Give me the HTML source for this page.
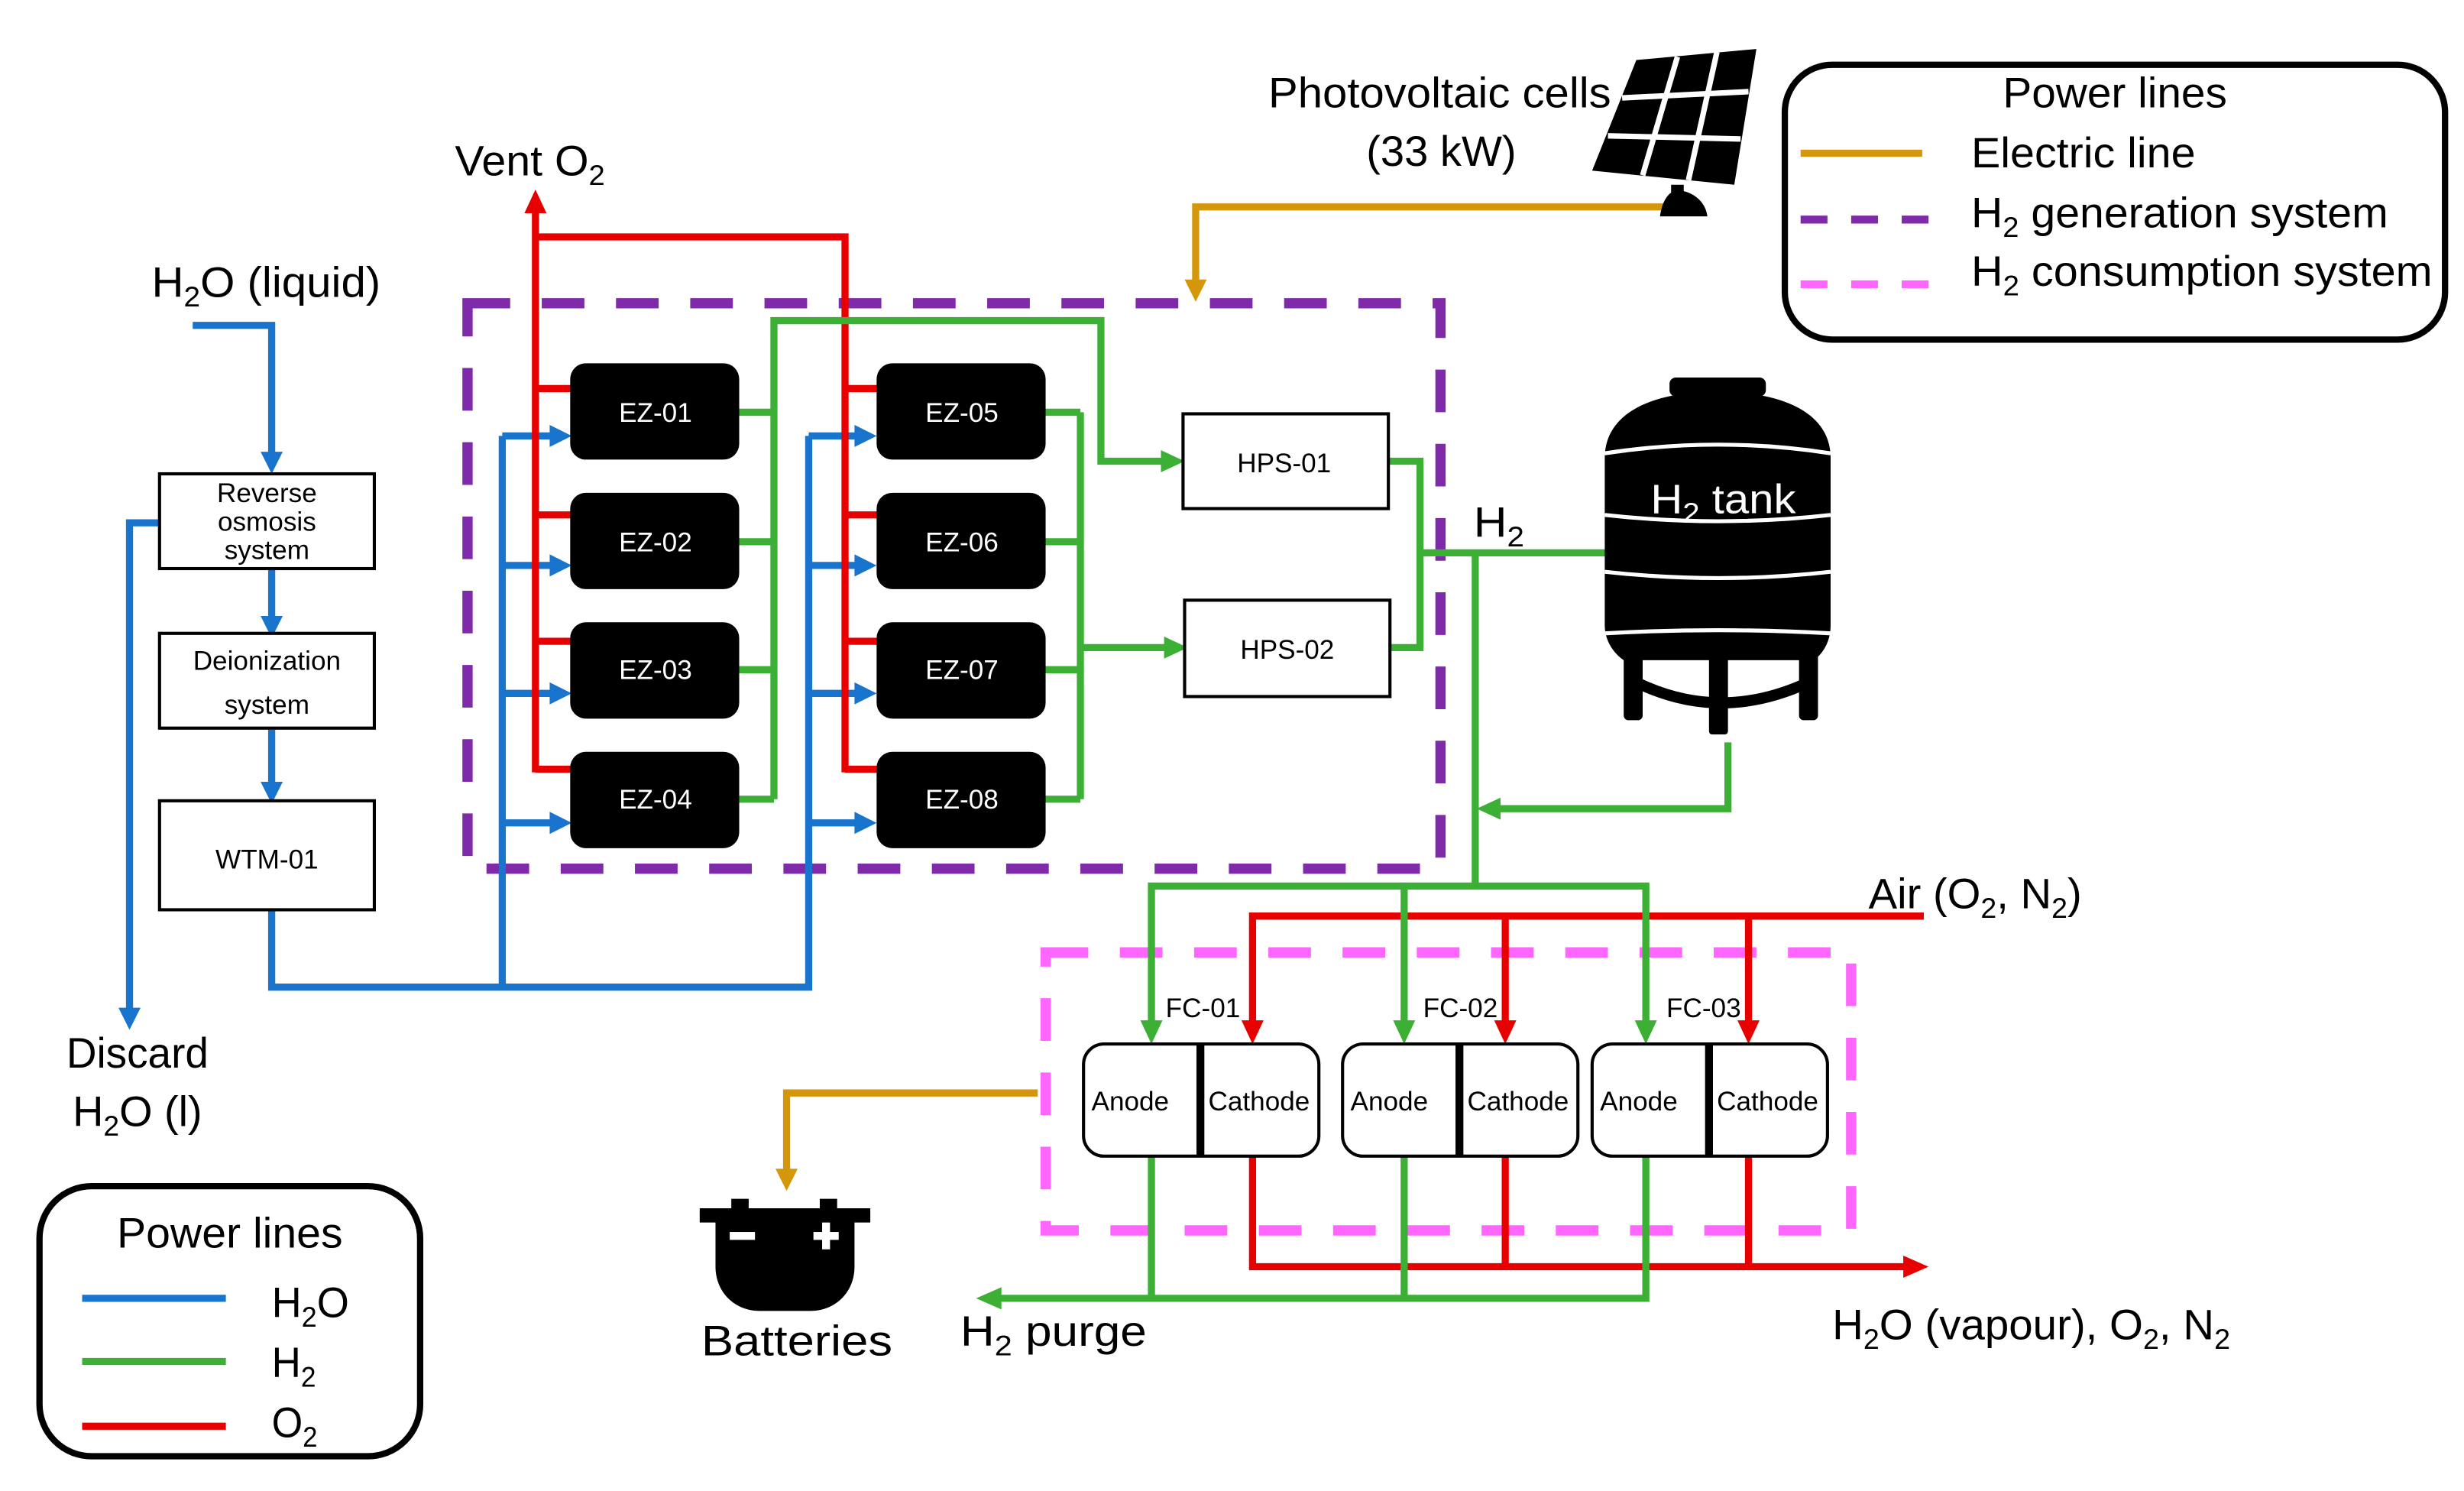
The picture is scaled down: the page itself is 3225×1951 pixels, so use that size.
<!DOCTYPE html>
<html><head><meta charset="utf-8"><style>
html,body{margin:0;padding:0;background:#fff}
svg{display:block}
text{font-family:"Liberation Sans Narrow","Liberation Sans",sans-serif;fill:#000}
text.w{fill:#fff}
</style></head><body>
<svg width="3225" height="1951" viewBox="0 0 1560 944" preserveAspectRatio="none" xmlns="http://www.w3.org/2000/svg">
<rect width="1560" height="944" fill="#fff"/>
<g fill="none" stroke-linejoin="miter" stroke-linecap="butt">
<rect x="296" y="192" width="616" height="358" stroke="#7f2aa8" stroke-width="6.5" stroke-dasharray="27,20"/>
<rect x="662" y="603" width="510" height="176" stroke="#ff66ff" stroke-width="6.5" stroke-dasharray="27,20"/>
<polyline points="1062,131 757,131 757,180" stroke="#d4960a" stroke-width="4.5"/>
<polyline points="657,692 498,692 498,742" stroke="#d4960a" stroke-width="4.5"/>
<g stroke="#1874cd" stroke-width="4.5">
<polyline points="122,206 172,206 172,288"/>
<line x1="172" y1="360" x2="172" y2="392"/>
<line x1="172" y1="462" x2="172" y2="497"/>
<polyline points="101,331 82,331 82,640"/>
<polyline points="172,577 172,625 512,625 512,276"/>
<line x1="318" y1="625" x2="318" y2="276"/>
<line x1="318" y1="276" x2="350" y2="276"/><line x1="318" y1="358" x2="350" y2="358"/>
<line x1="318" y1="439" x2="350" y2="439"/><line x1="318" y1="521" x2="350" y2="521"/>
<line x1="512" y1="276" x2="543" y2="276"/><line x1="512" y1="358" x2="543" y2="358"/>
<line x1="512" y1="439" x2="543" y2="439"/><line x1="512" y1="521" x2="543" y2="521"/>
</g>
<g stroke="#e60000" stroke-width="4.5">
<line x1="339" y1="132" x2="339" y2="489"/>
<polyline points="339,150 535,150 535,489"/>
<line x1="339" y1="246" x2="362" y2="246"/><line x1="339" y1="326" x2="362" y2="326"/>
<line x1="339" y1="406" x2="362" y2="406"/><line x1="339" y1="487" x2="362" y2="487"/>
<line x1="535" y1="246" x2="556" y2="246"/><line x1="535" y1="326" x2="556" y2="326"/>
<line x1="535" y1="406" x2="556" y2="406"/><line x1="535" y1="487" x2="556" y2="487"/>
<polyline points="793,648 793,580 1218,580"/>
<line x1="953" y1="580" x2="953" y2="648"/>
<line x1="1107" y1="580" x2="1107" y2="648"/>
<polyline points="793,732 793,802 1208,802"/>
<line x1="953" y1="732" x2="953" y2="802"/>
<line x1="1107" y1="732" x2="1107" y2="802"/>
</g>
<g stroke="#3cb034" stroke-width="4.5">
<line x1="468" y1="261" x2="490" y2="261"/><line x1="468" y1="343" x2="490" y2="343"/>
<line x1="468" y1="424" x2="490" y2="424"/><line x1="468" y1="506" x2="490" y2="506"/>
<polyline points="490,506 490,203 697,203 697,292 738,292"/>
<line x1="660" y1="261" x2="684" y2="261"/><line x1="660" y1="343" x2="684" y2="343"/>
<line x1="660" y1="424" x2="684" y2="424"/><line x1="660" y1="506" x2="684" y2="506"/>
<polyline points="684,261 684,506"/>
<line x1="684" y1="410" x2="740" y2="410"/>
<polyline points="879,292 899,292 899,410 880,410"/>
<line x1="899" y1="350" x2="1020" y2="350"/>
<line x1="934" y1="350" x2="934" y2="561"/>
<polyline points="1094,470 1094,512 948,512"/>
<polyline points="729,648 729,561 1042,561 1042,648"/>
<line x1="889" y1="561" x2="889" y2="648"/>
<polyline points="729,732 729,822 632,822"/>
<polyline points="889,732 889,822 1042,822 1042,732"/>
<line x1="729" y1="822" x2="889" y2="822"/>
</g>
</g>
<g fill="#1874cd">
<polygon points="165,286 179,286 172,300"/>
<polygon points="165,390 179,390 172,404"/>
<polygon points="165,495 179,495 172,509"/>
<polygon points="75,638 89,638 82,652"/>
<polygon points="348,269 348,283 362,276"/><polygon points="348,351 348,365 362,358"/>
<polygon points="348,432 348,446 362,439"/><polygon points="348,514 348,528 362,521"/>
<polygon points="541,269 541,283 555,276"/><polygon points="541,351 541,365 555,358"/>
<polygon points="541,432 541,446 555,439"/><polygon points="541,514 541,528 555,521"/>
</g>
<g fill="#e60000">
<polygon points="332,135 346,135 339,120"/>
<polygon points="786,646 800,646 793,661"/>
<polygon points="946,646 960,646 953,661"/>
<polygon points="1100,646 1114,646 1107,661"/>
<polygon points="1205,795 1205,809 1221,802"/>
</g>
<g fill="#3cb034">
<polygon points="735,285 735,299 750,292"/>
<polygon points="737,403 737,417 752,410"/>
<polygon points="950,505 950,519 935,512"/>
<polygon points="722,646 736,646 729,661"/>
<polygon points="882,646 896,646 889,661"/>
<polygon points="1035,646 1049,646 1042,661"/>
<polygon points="634,815 634,829 618,822"/>
</g>
<g fill="#d4960a">
<polygon points="750,177 764,177 757,191"/>
<polygon points="491,740 505,740 498,754"/>
</g>
<g fill="#fff" stroke="#000" stroke-width="2">
<rect x="101" y="300" width="136" height="60"/>
<rect x="101" y="401" width="136" height="60"/>
<rect x="101" y="507" width="136" height="69"/>
<rect x="749" y="262" width="130" height="60"/>
<rect x="750" y="380" width="130" height="61"/>
</g>
<g fill="#000">
<rect x="361" y="230" width="107" height="61" rx="10"/>
<rect x="361" y="312" width="107" height="61" rx="10"/>
<rect x="361" y="394" width="107" height="61" rx="10"/>
<rect x="361" y="476" width="107" height="61" rx="10"/>
<rect x="555" y="230" width="107" height="61" rx="10"/>
<rect x="555" y="312" width="107" height="61" rx="10"/>
<rect x="555" y="394" width="107" height="61" rx="10"/>
<rect x="555" y="476" width="107" height="61" rx="10"/>
</g>
<g font-size="17" text-anchor="middle">
<text class="w" style="fill:#fff" x="415" y="267">EZ-01</text><text class="w" style="fill:#fff" x="415" y="349">EZ-02</text>
<text class="w" style="fill:#fff" x="415" y="430">EZ-03</text><text class="w" style="fill:#fff" x="415" y="512">EZ-04</text>
<text class="w" style="fill:#fff" x="609" y="267">EZ-05</text><text class="w" style="fill:#fff" x="609" y="349">EZ-06</text>
<text class="w" style="fill:#fff" x="609" y="430">EZ-07</text><text class="w" style="fill:#fff" x="609" y="512">EZ-08</text>
</g>
<g font-size="17" text-anchor="middle">
<text x="813" y="299">HPS-01</text><text x="815" y="417">HPS-02</text>
<text x="169" y="318">Reverse</text><text x="169" y="336">osmosis</text><text x="169" y="354">system</text>
<text x="169" y="424">Deionization</text><text x="169" y="452">system</text>
<text x="169" y="550">WTM-01</text>
</g>
<g fill="#fff" stroke="#000" stroke-width="2">
<rect x="686" y="661" width="149" height="71" rx="13"/>
<rect x="850" y="661" width="149" height="71" rx="13"/>
<rect x="1008" y="661" width="149" height="71" rx="13"/>
</g>
<g stroke="#000" stroke-width="5">
<line x1="760" y1="661" x2="760" y2="732"/>
<line x1="924" y1="661" x2="924" y2="732"/>
<line x1="1082" y1="661" x2="1082" y2="732"/>
</g>
<g font-size="17">
<text x="738" y="644">FC-01</text><text x="901" y="644">FC-02</text><text x="1055" y="644">FC-03</text>
<text x="691" y="703">Anode</text><text x="765" y="703">Cathode</text>
<text x="855" y="703">Anode</text><text x="929" y="703">Cathode</text>
<text x="1013" y="703">Anode</text><text x="1087" y="703">Cathode</text>
</g>
<g fill="#000">
<polygon points="1036,38 1112,31 1098,117 1008,108"/>
</g>
<g stroke="#fff" stroke-width="3.5">
<line x1="1062" y1="36" x2="1040" y2="111"/>
<line x1="1087" y1="33" x2="1069" y2="114"/>
<line x1="1027" y1="62" x2="1107" y2="58"/>
<line x1="1018" y1="86" x2="1102" y2="88"/>
</g>
<path d="M1058,117 h8 v4 c8,2 14,8 15,16 h-30 c1,-8 4,-13 7,-15 z" fill="#000"/>
<g fill="#000">
<rect x="1057" y="239" width="61" height="12" rx="4"/>
<path d="M1016,290 C1016,262 1045,248 1087,248 C1130,248 1159,262 1159,290 L1159,396 C1159,408 1152,416 1148,418 L1028,418 C1022,414 1016,406 1016,396 Z"/>
<rect x="1028" y="410" width="12" height="46" rx="3"/>
<rect x="1139" y="410" width="12" height="46" rx="3"/>
<rect x="1082" y="410" width="12" height="55" rx="2"/>
</g>
<path d="M1036,432 Q1089,458 1145,432" fill="none" stroke="#000" stroke-width="7"/>
<g fill="none" stroke="#fff" stroke-width="2.5">
<path d="M1016,287 Q1088,276 1159,287"/>
<path d="M1016,326 Q1088,334 1159,326"/>
<path d="M1016,362 Q1088,370 1159,362"/>
<path d="M1016,401 Q1088,397 1159,401"/>
</g>
<text x="1045" y="325" font-size="26" textLength="92" lengthAdjust="spacingAndGlyphs" style="fill:#fff">H<tspan font-size="18" dy="6">2</tspan><tspan dy="-6"> tank</tspan></text>
<g fill="#000">
<rect x="463" y="759" width="11" height="8"/>
<rect x="519" y="759" width="11" height="8"/>
<rect x="443" y="765" width="108" height="9"/>
<path d="M453,772 h88 v30 c0,16 -12,28 -28,28 h-32 c-16,0 -28,-12 -28,-28 z"/>
</g>
<g fill="#fff">
<rect x="462" y="780" width="16" height="5"/>
<rect x="515" y="780" width="16" height="5"/><rect x="520.5" y="774" width="5" height="17"/>
</g>
<g font-size="27">
<text x="288" y="111" textLength="95" lengthAdjust="spacingAndGlyphs">Vent O<tspan font-size="18" dy="6">2</tspan></text>
<text x="96" y="188" textLength="145" lengthAdjust="spacingAndGlyphs">H<tspan font-size="18" dy="6">2</tspan><tspan dy="-6">O (liquid)</tspan></text>
<text x="803" y="68" textLength="217" lengthAdjust="spacingAndGlyphs">Photovoltaic cells</text>
<text x="865" y="105" textLength="95" lengthAdjust="spacingAndGlyphs">(33 kW)</text>
<text x="933" y="340" textLength="32" lengthAdjust="spacingAndGlyphs">H<tspan font-size="18" dy="6">2</tspan></text>
<text x="1183" y="575" textLength="135" lengthAdjust="spacingAndGlyphs">Air (O<tspan font-size="18" dy="6">2</tspan><tspan dy="-6">, N</tspan><tspan font-size="18" dy="6">2</tspan><tspan dy="-6">)</tspan></text>
<text x="42" y="676" textLength="90" lengthAdjust="spacingAndGlyphs">Discard</text>
<text x="46" y="713" textLength="82" lengthAdjust="spacingAndGlyphs">H<tspan font-size="18" dy="6">2</tspan><tspan dy="-6">O (l)</tspan></text>
<text x="444" y="858" textLength="121" lengthAdjust="spacingAndGlyphs">Batteries</text>
<text x="608" y="852" textLength="118" lengthAdjust="spacingAndGlyphs">H<tspan font-size="18" dy="6">2</tspan><tspan dy="-6"> purge</tspan></text>
<text x="1160" y="848" textLength="252" lengthAdjust="spacingAndGlyphs">H<tspan font-size="18" dy="6">2</tspan><tspan dy="-6">O (vapour), O</tspan><tspan font-size="18" dy="6">2</tspan><tspan dy="-6">, N</tspan><tspan font-size="18" dy="6">2</tspan></text>
</g>
<rect x="1130" y="41" width="418" height="174" rx="30" fill="none" stroke="#000" stroke-width="4"/>
<line x1="1140" y1="97" x2="1217" y2="97" stroke="#d4960a" stroke-width="4.5"/>
<line x1="1140" y1="139" x2="1222" y2="139" stroke="#7f2aa8" stroke-width="5" stroke-dasharray="17,15"/>
<line x1="1140" y1="180" x2="1222" y2="180" stroke="#ff66ff" stroke-width="5" stroke-dasharray="17,15"/>
<g font-size="27">
<text x="1268" y="68" textLength="142" lengthAdjust="spacingAndGlyphs">Power lines</text>
<text x="1248" y="106" textLength="142" lengthAdjust="spacingAndGlyphs">Electric line</text>
<text x="1248" y="144" textLength="264" lengthAdjust="spacingAndGlyphs">H<tspan font-size="18" dy="6">2</tspan><tspan dy="-6"> generation system</tspan></text>
<text x="1248" y="181" textLength="292" lengthAdjust="spacingAndGlyphs">H<tspan font-size="18" dy="6">2</tspan><tspan dy="-6"> consumption system</tspan></text>
</g>
<rect x="25" y="751" width="241" height="171" rx="33" fill="none" stroke="#000" stroke-width="4"/>
<line x1="52" y1="822" x2="143" y2="822" stroke="#1874cd" stroke-width="4.5"/>
<line x1="52" y1="862" x2="143" y2="862" stroke="#3cb034" stroke-width="4.5"/>
<line x1="52" y1="903" x2="143" y2="903" stroke="#e60000" stroke-width="4.5"/>
<g font-size="27">
<text x="74" y="790" textLength="143" lengthAdjust="spacingAndGlyphs">Power lines</text>
<text x="172" y="834" textLength="49" lengthAdjust="spacingAndGlyphs">H<tspan font-size="18" dy="6">2</tspan><tspan dy="-6">O</tspan></text>
<text x="172" y="872" textLength="28" lengthAdjust="spacingAndGlyphs">H<tspan font-size="18" dy="6">2</tspan></text>
<text x="172" y="910" textLength="29" lengthAdjust="spacingAndGlyphs">O<tspan font-size="18" dy="6">2</tspan></text>
</g>
</svg>
</body></html>
